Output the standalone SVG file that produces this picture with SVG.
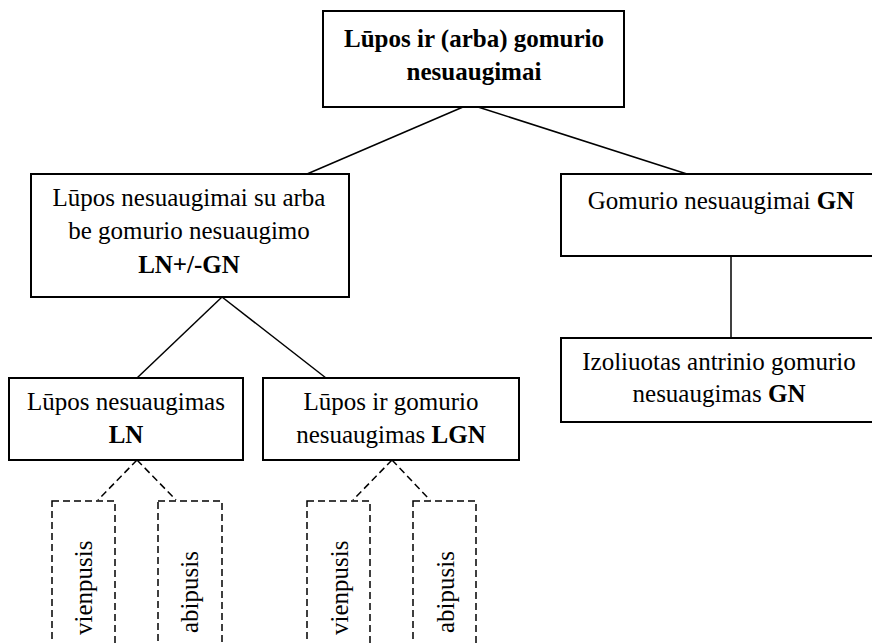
<svg xmlns="http://www.w3.org/2000/svg" width="872" height="643" viewBox="0 0 872 643">
<style>
.box{fill:#fff;stroke:#000;stroke-width:2}
.dbox{fill:none;stroke:#000;stroke-width:1.5;stroke-dasharray:7 4}
.ln{stroke:#000;stroke-width:1.5;fill:none}
.dln{stroke:#000;stroke-width:1.5;fill:none;stroke-dasharray:7 4}
text{font-family:'Liberation Serif','DejaVu Serif',serif;font-size:25px;fill:#000}
.c{text-anchor:middle}
.b{font-weight:bold}
</style>
<rect width="872" height="643" fill="#fff"/>
<g id="connectors">
<line class="ln" x1="463" y1="107" x2="307" y2="174"/>
<line class="ln" x1="478" y1="107" x2="687" y2="174"/>
<line class="ln" x1="222" y1="297" x2="137" y2="378"/>
<line class="ln" x1="222" y1="297" x2="326" y2="378"/>
<line class="ln" x1="731" y1="256" x2="731" y2="338"/>
<line class="dln" x1="137" y1="460" x2="98" y2="500"/>
<line class="dln" x1="137" y1="460" x2="176" y2="500"/>
<line class="dln" x1="392" y1="460" x2="353" y2="500"/>
<line class="dln" x1="392" y1="460" x2="430" y2="500"/>
</g>
<g id="root">
<rect class="box" x="323" y="11" width="301" height="96"/>
<text class="c b" x="474" y="47" font-family="Liberation Serif, serif">Lūpos ir (arba) gomurio</text>
<text class="c b" x="474" y="80" font-family="Liberation Serif, serif">nesuaugimai</text>
</g>
<g id="ln-gn">
<rect class="box" x="31" y="174" width="318" height="123"/>
<text class="c" x="189" y="206">Lūpos nesuaugimai su arba</text>
<text class="c" x="189" y="239">be gomurio nesuaugimo</text>
<text class="c b" x="189" y="272.5">LN+/-GN</text>
</g>
<g id="gn">
<rect class="box" x="561" y="174" width="320" height="82"/>
<text class="c" x="721" y="209">Gomurio nesuaugimai <tspan class="b">GN</tspan></text>
</g>
<g id="gn-iso">
<rect class="box" x="561" y="338" width="320" height="84"/>
<text class="c" x="719" y="370">Izoliuotas antrinio gomurio</text>
<text class="c" x="719" y="402">nesuaugimas <tspan class="b">GN</tspan></text>
</g>
<g id="ln">
<rect class="box" x="9" y="378" width="234" height="82"/>
<text class="c" x="126" y="410">Lūpos nesuaugimas</text>
<text class="c b" x="126" y="443">LN</text>
</g>
<g id="lgn">
<rect class="box" x="263" y="378" width="256" height="82"/>
<text class="c" x="391" y="410">Lūpos ir gomurio</text>
<text class="c" x="391" y="443">nesuaugimas <tspan class="b">LGN</tspan></text>
</g>
<g id="ln-vien">
<rect class="dbox" x="52" y="501" width="63" height="160"/>
<text transform="translate(92,635) rotate(-90)">vienpusis</text>
</g>
<g id="ln-abi">
<rect class="dbox" x="158" y="501" width="64" height="160"/>
<text transform="translate(198,633) rotate(-90)">abipusis</text>
</g>
<g id="lgn-vien">
<rect class="dbox" x="307" y="501" width="63" height="160"/>
<text transform="translate(348,635) rotate(-90)">vienpusis</text>
</g>
<g id="lgn-abi">
<rect class="dbox" x="413" y="501" width="63" height="160"/>
<text transform="translate(454,633) rotate(-90)">abipusis</text>
</g>
</svg>
